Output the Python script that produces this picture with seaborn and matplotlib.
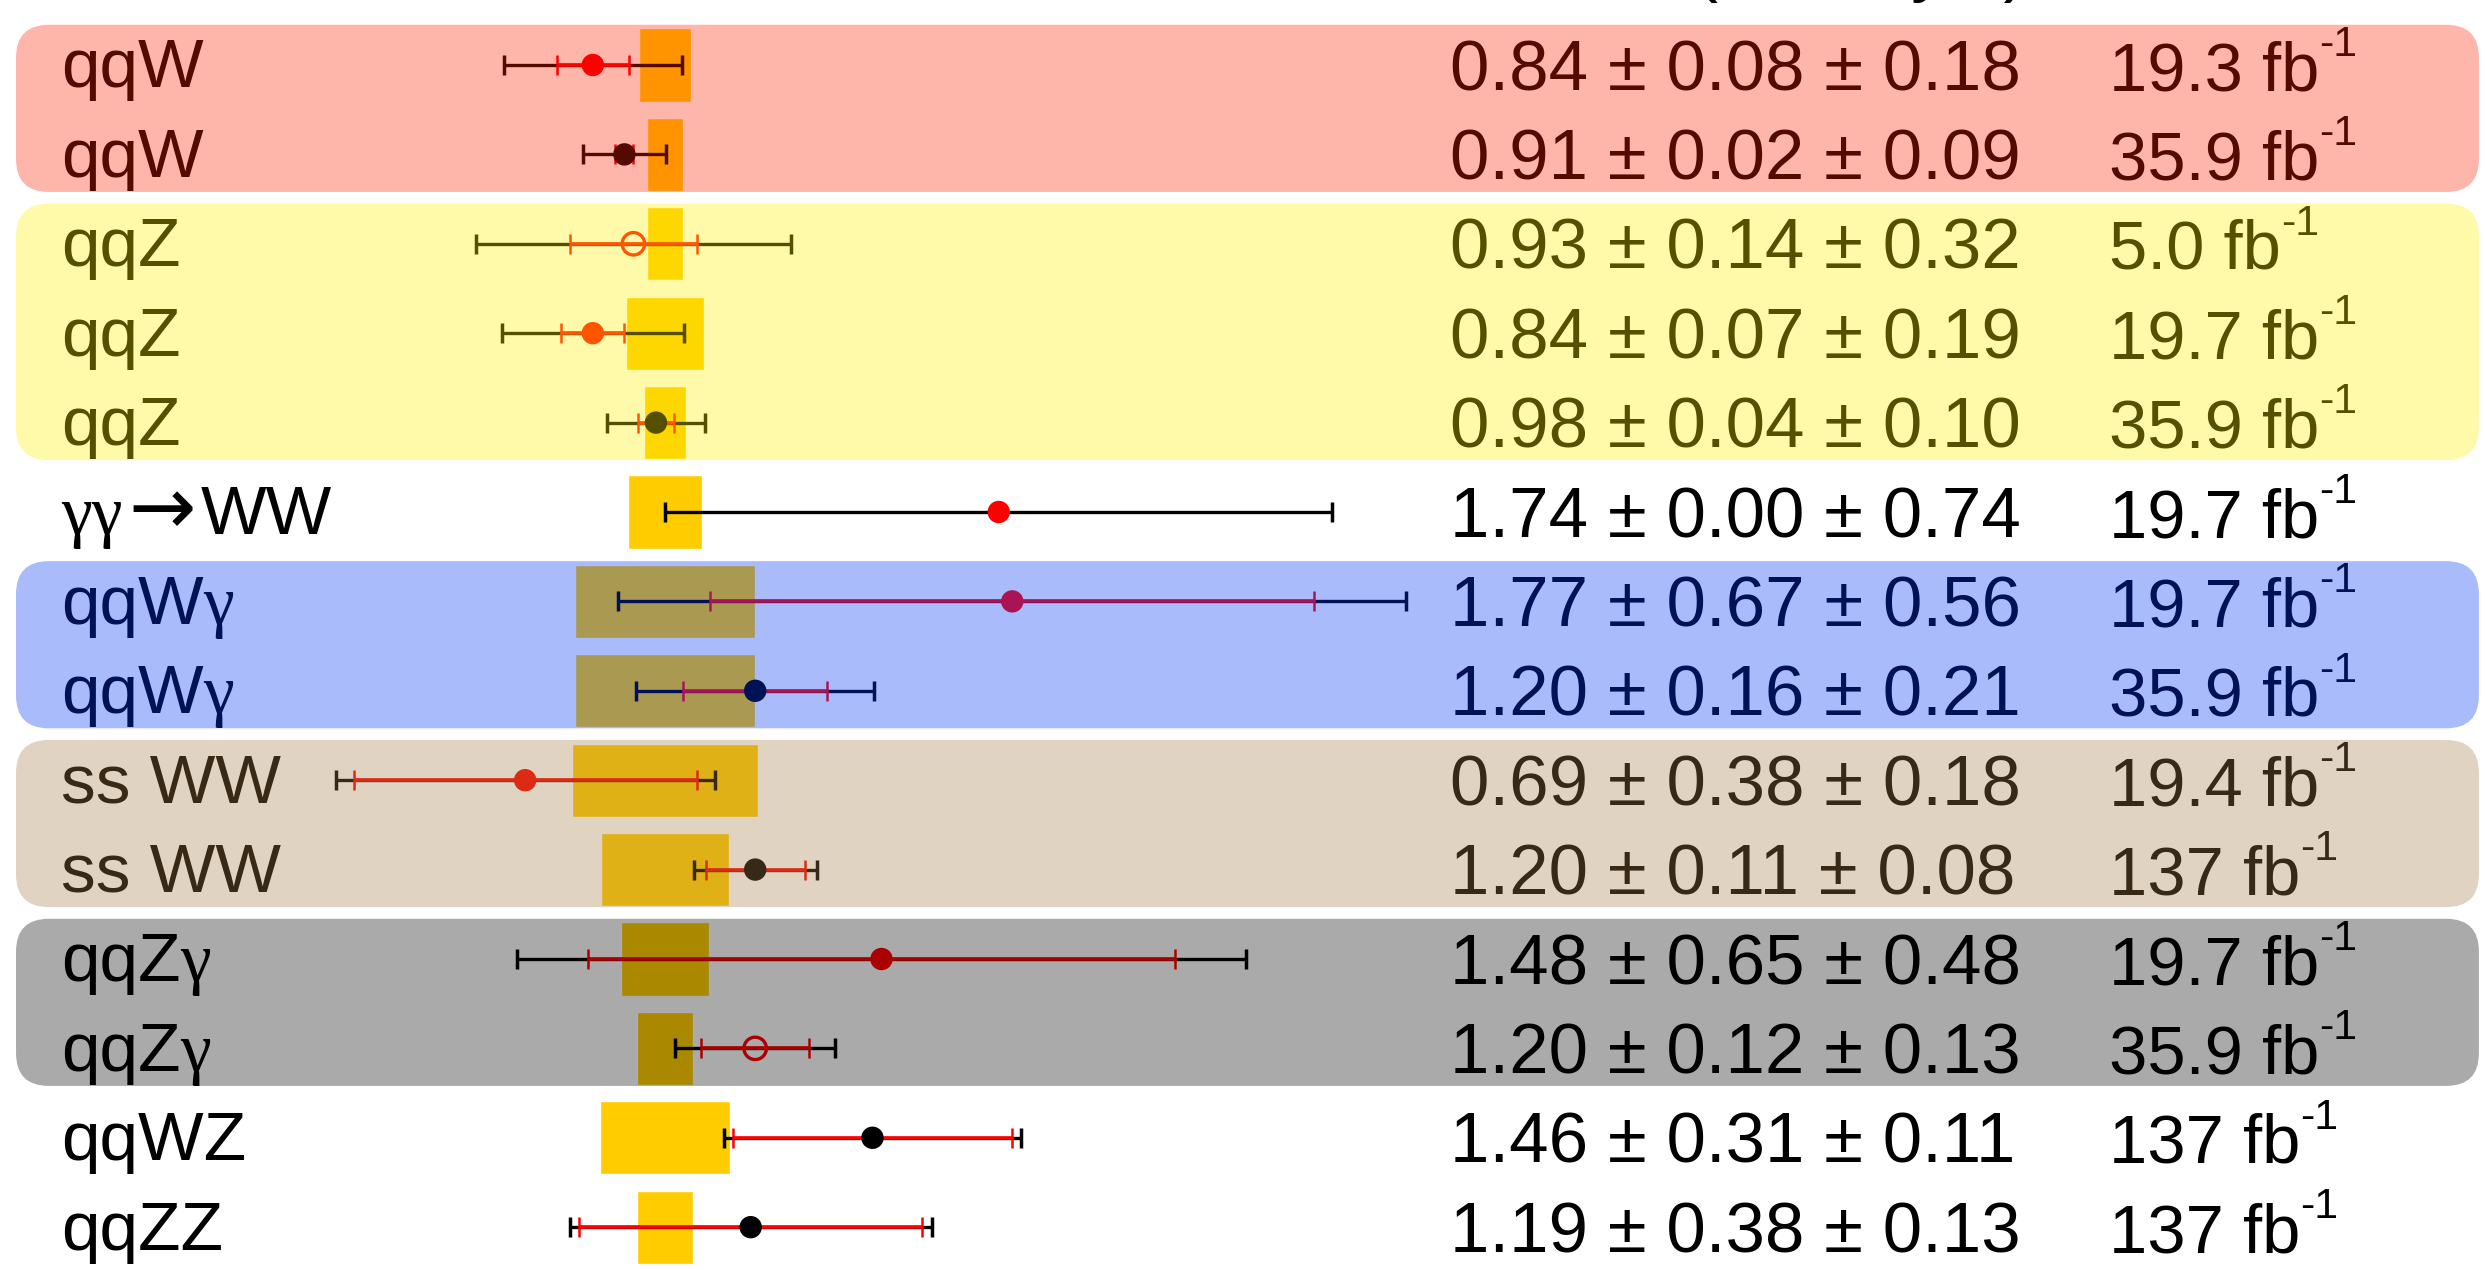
import re
import numpy as np
import pandas as pd
import matplotlib
matplotlib.use("Agg")
import matplotlib.pyplot as plt
from matplotlib.patches import FancyBboxPatch
from matplotlib.transforms import blended_transform_factory
import seaborn as sns

# one row per measurement, top to bottom
labels = ['qqW', 'qqW', 'qqZ', 'qqZ', 'qqZ', 'γγ→WW', 'qqWγ', 'qqWγ',
          'ss WW', 'ss WW', 'qqZγ', 'qqZγ', 'qqWZ', 'qqZZ']
ratio = [0.84, 0.91, 0.93, 0.84, 0.98, 1.74, 1.77, 1.20, 0.69, 1.20, 1.48, 1.20, 1.46, 1.19]
stat = [0.08, 0.02, 0.14, 0.07, 0.04, 0.00, 0.67, 0.16, 0.38, 0.11, 0.65, 0.12, 0.31, 0.38]
syst = [0.18, 0.09, 0.32, 0.19, 0.10, 0.74, 0.56, 0.21, 0.18, 0.08, 0.48, 0.13, 0.11, 0.13]
lumi = ['19.3', '35.9', '5.0', '19.7', '35.9', '19.7', '19.7', '35.9', '19.4', '137',
        '19.7', '35.9', '137', '137']
# half width of the theory uncertainty box around 1
theory_unc = [0.057, 0.040, 0.039, 0.087, 0.046, 0.082, 0.200, 0.200, 0.207, 0.143,
              0.097, 0.063, 0.145, 0.063]
open_marker = [False, False, True, False, False, False, False, False, False, False,
               False, True, False, False]

outer_colors = ['#550A00', '#550A00', '#555000', '#555000', '#555000', '#000000',
                '#001155', '#001155', '#382917', '#382917', '#000000', '#000000',
                '#000000', '#000000']
inner_colors = ['#FF0000', '#FF0000', '#FF5500', '#FF5500', '#FF5500', '#FF0000',
                '#AA1455', '#AA1455', '#DD2A15', '#DD2A15', '#AA0000', '#AA0000',
                '#FF0000', '#FF0000']
marker_colors = ['#FF0000', '#550A00', '#FF5500', '#FF5500', '#555000', '#FF0000',
                 '#AA1455', '#001155', '#DD2A15', '#382917', '#AA0000', '#AA0000',
                 '#000000', '#000000']

# shaded groups: (first row, last row)
group_rows = [(0, 1), (2, 4), (6, 7), (8, 9), (10, 11)]
group_fill = ['#FF2400', '#FFF000', '#0033F6', '#A27B45', '#000000']
group_text = ['#550A00', '#555000', '#001155', '#382917', '#000000']

sns.set_theme(style='white')
plt.rcParams['font.family'] = ['Liberation Sans', 'DejaVu Sans']

# font and size for special characters in the row labels
label_fonts = {'γ': ('Liberation Serif', 50), '→': ('DejaVu Sans', 58)}

rows = np.arange(len(labels))
total = np.hypot(stat, syst)
theory_unc = np.array(theory_unc)

text_colors = ['#000000'] * len(labels)
for (r0, r1), c in zip(group_rows, group_text):
    for r in range(r0, r1 + 1):
        text_colors[r] = c

fig = plt.figure(figsize=(24.85, 12.70), dpi=100)
ax = fig.add_axes([0, 0, 1, 1])

# theory boxes
ax.barh(rows, 2 * theory_unc, left=1 - theory_unc, height=0.82,
        color='#FFCC00', zorder=1)

# translucent group bands
for (r0, r1), col in zip(group_rows, group_fill):
    band = FancyBboxPatch((-0.439, r0 - 0.45), 5.461, r1 - r0 + 0.87,
                          boxstyle='round,pad=0,rounding_size=0.073',
                          mutation_aspect=5.04, fc=col, ec='none',
                          alpha=1 / 3, zorder=2)
    ax.add_patch(band)

# total and stat error bars
for i in rows:
    ax.errorbar(ratio[i], i, xerr=total[i], fmt='none', ecolor=outer_colors[i],
                elinewidth=2.4, capsize=7.5, capthick=2.5, zorder=3)
    if stat[i] > 0:
        ax.errorbar(ratio[i], i, xerr=stat[i], fmt='none', ecolor=inner_colors[i],
                    elinewidth=2.6, capsize=7.5, capthick=1.8, zorder=4)

df = pd.DataFrame({'ratio': ratio, 'row': rows, 'key': [str(r) for r in rows]})
pal = {str(r): marker_colors[r] for r in rows}
sns.scatterplot(data=df, x='ratio', y='row', hue='key', palette=pal, s=260,
                linewidth=0, legend=False, ax=ax, zorder=5)
pts = ax.collections[-1]
fcs = [(1, 1, 1, 0) if o else c for o, c in zip(open_marker, marker_colors)]
pts.set_facecolors(fcs)
pts.set_edgecolors(marker_colors)
pts.set_linewidths([2.4 if o else 0 for o in open_marker])

ax.set_xlim(-0.4745, 5.0355)
ax.set_ylim(13.479, -0.727)
ax.axis('off')

trans = blended_transform_factory(ax.transAxes, ax.transData)
renderer = fig.canvas.get_renderer()


def draw_label(y, text, color):
    # draw the label piece by piece so greek letters and arrows get their own font
    x_off = 0.0
    for seg in re.findall(r'γ+|→|[^γ→]+', text):
        fam, size = label_fonts.get(seg[0], ('Liberation Sans', 50))
        pad = 4 if seg == '→' else 0
        t = ax.annotate(seg, xy=(0.0245, y), xycoords=trans, xytext=(x_off + pad, 0),
                        textcoords='offset points', fontsize=size, family=fam,
                        color=color, va='baseline', zorder=6)
        x_off += t.get_window_extent(renderer).width * 72 / fig.dpi + 2 * pad


for i in rows:
    c = text_colors[i]
    draw_label(i + 0.25, labels[i], c)
    ax.text(0.5835, i + 0.28, f'{ratio[i]:.2f} ± {stat[i]:.2f} ± {syst[i]:.2f}',
            transform=trans, fontsize=51, color=c, va='baseline', zorder=6)
    t = ax.text(0.8487, i + 0.28, f'{lumi[i]} fb', transform=trans, fontsize=49.5,
                color=c, va='baseline', zorder=6)
    ax.annotate('-1', xy=(1, 1), xycoords=t, xytext=(0, 11),
                textcoords='offset points', fontsize=31, color=c,
                va='top', ha='left', zorder=6)

# header line, mostly cut off at the top edge
ax.text(0.816, -0.86, '(stat, syst)', transform=trans, fontsize=52,
        ha='right', va='baseline', color='black')

fig.savefig('out.png', dpi=100)
